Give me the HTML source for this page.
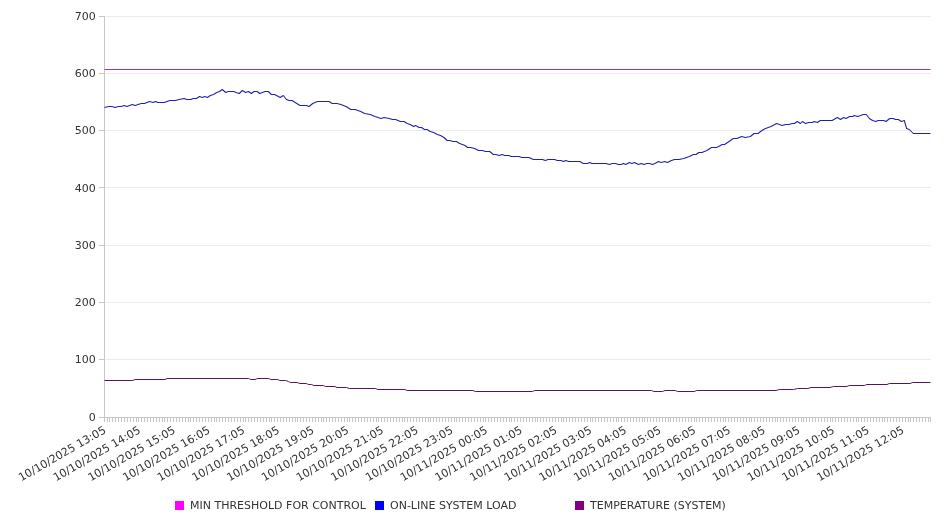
<!DOCTYPE html><html><head><meta charset="utf-8"><title>Chart</title><style>
html,body{margin:0;padding:0;background:#fff;width:946px;height:526px;overflow:hidden}
svg{display:block}
text{font-family:'DejaVu Sans', 'Liberation Sans', sans-serif;fill:#333333}
</style></head><body>
<svg width="946" height="526" viewBox="0 0 946 526">
<defs><filter id="gs" x="-0.05" y="-0.1" width="1.1" height="1.2" color-interpolation-filters="sRGB"><feColorMatrix type="saturate" values="0"/></filter></defs>
<rect width="946" height="526" fill="#fff"/>
<path d="M104.5 417.5H930.5M104.5 359.5H930.5M104.5 302.5H930.5M104.5 245.5H930.5M104.5 187.5H930.5M104.5 130.5H930.5M104.5 73.5H930.5M104.5 16.5H930.5" stroke="#ebebeb" stroke-width="1" fill="none" shape-rendering="crispEdges"/>
<path d="M99 417.5H104.5M99 359.5H104.5M99 302.5H104.5M99 245.5H104.5M99 187.5H104.5M99 130.5H104.5M99 73.5H104.5M99 16.5H104.5" stroke="#c6c6c6" stroke-width="1" fill="none" shape-rendering="crispEdges"/>
<g font-size="11" text-anchor="end" filter="url(#gs)">
<text x="95.8" y="420.7">0</text>
<text x="95.8" y="363.4">100</text>
<text x="95.8" y="306.1">200</text>
<text x="95.8" y="248.8">300</text>
<text x="95.8" y="191.6">400</text>
<text x="95.8" y="134.3">500</text>
<text x="95.8" y="77.0">600</text>
<text x="95.8" y="19.7">700</text>
</g>
<path d="M104.5 417.5V422M107.5 417.5V422M109.5 417.5V422M112.5 417.5V422M115.5 417.5V422M118.5 417.5V422M121.5 417.5V422M124.5 417.5V422M127.5 417.5V422M130.5 417.5V422M133.5 417.5V422M136.5 417.5V422M138.5 417.5V422M141.5 417.5V422M144.5 417.5V422M147.5 417.5V422M150.5 417.5V422M153.5 417.5V422M156.5 417.5V422M159.5 417.5V422M162.5 417.5V422M164.5 417.5V422M167.5 417.5V422M170.5 417.5V422M173.5 417.5V422M176.5 417.5V422M179.5 417.5V422M182.5 417.5V422M185.5 417.5V422M188.5 417.5V422M190.5 417.5V422M193.5 417.5V422M196.5 417.5V422M199.5 417.5V422M202.5 417.5V422M205.5 417.5V422M208.5 417.5V422M211.5 417.5V422M214.5 417.5V422M216.5 417.5V422M219.5 417.5V422M222.5 417.5V422M225.5 417.5V422M228.5 417.5V422M231.5 417.5V422M234.5 417.5V422M237.5 417.5V422M240.5 417.5V422M243.5 417.5V422M245.5 417.5V422M248.5 417.5V422M251.5 417.5V422M254.5 417.5V422M257.5 417.5V422M260.5 417.5V422M263.5 417.5V422M266.5 417.5V422M269.5 417.5V422M271.5 417.5V422M274.5 417.5V422M277.5 417.5V422M280.5 417.5V422M283.5 417.5V422M286.5 417.5V422M289.5 417.5V422M292.5 417.5V422M295.5 417.5V422M297.5 417.5V422M300.5 417.5V422M303.5 417.5V422M306.5 417.5V422M309.5 417.5V422M312.5 417.5V422M315.5 417.5V422M318.5 417.5V422M321.5 417.5V422M323.5 417.5V422M326.5 417.5V422M329.5 417.5V422M332.5 417.5V422M335.5 417.5V422M338.5 417.5V422M341.5 417.5V422M344.5 417.5V422M347.5 417.5V422M349.5 417.5V422M352.5 417.5V422M355.5 417.5V422M358.5 417.5V422M361.5 417.5V422M364.5 417.5V422M367.5 417.5V422M370.5 417.5V422M373.5 417.5V422M376.5 417.5V422M378.5 417.5V422M381.5 417.5V422M384.5 417.5V422M387.5 417.5V422M390.5 417.5V422M393.5 417.5V422M396.5 417.5V422M399.5 417.5V422M402.5 417.5V422M404.5 417.5V422M407.5 417.5V422M410.5 417.5V422M413.5 417.5V422M416.5 417.5V422M419.5 417.5V422M422.5 417.5V422M425.5 417.5V422M428.5 417.5V422M430.5 417.5V422M433.5 417.5V422M436.5 417.5V422M439.5 417.5V422M442.5 417.5V422M445.5 417.5V422M448.5 417.5V422M451.5 417.5V422M454.5 417.5V422M456.5 417.5V422M459.5 417.5V422M462.5 417.5V422M465.5 417.5V422M468.5 417.5V422M471.5 417.5V422M474.5 417.5V422M477.5 417.5V422M480.5 417.5V422M483.5 417.5V422M485.5 417.5V422M488.5 417.5V422M491.5 417.5V422M494.5 417.5V422M497.5 417.5V422M500.5 417.5V422M503.5 417.5V422M506.5 417.5V422M509.5 417.5V422M511.5 417.5V422M514.5 417.5V422M517.5 417.5V422M520.5 417.5V422M523.5 417.5V422M526.5 417.5V422M529.5 417.5V422M532.5 417.5V422M535.5 417.5V422M537.5 417.5V422M540.5 417.5V422M543.5 417.5V422M546.5 417.5V422M549.5 417.5V422M552.5 417.5V422M555.5 417.5V422M558.5 417.5V422M561.5 417.5V422M563.5 417.5V422M566.5 417.5V422M569.5 417.5V422M572.5 417.5V422M575.5 417.5V422M578.5 417.5V422M581.5 417.5V422M584.5 417.5V422M587.5 417.5V422M590.5 417.5V422M592.5 417.5V422M595.5 417.5V422M598.5 417.5V422M601.5 417.5V422M604.5 417.5V422M607.5 417.5V422M610.5 417.5V422M613.5 417.5V422M616.5 417.5V422M618.5 417.5V422M621.5 417.5V422M624.5 417.5V422M627.5 417.5V422M630.5 417.5V422M633.5 417.5V422M636.5 417.5V422M639.5 417.5V422M642.5 417.5V422M644.5 417.5V422M647.5 417.5V422M650.5 417.5V422M653.5 417.5V422M656.5 417.5V422M659.5 417.5V422M662.5 417.5V422M665.5 417.5V422M668.5 417.5V422M670.5 417.5V422M673.5 417.5V422M676.5 417.5V422M679.5 417.5V422M682.5 417.5V422M685.5 417.5V422M688.5 417.5V422M691.5 417.5V422M694.5 417.5V422M696.5 417.5V422M699.5 417.5V422M702.5 417.5V422M705.5 417.5V422M708.5 417.5V422M711.5 417.5V422M714.5 417.5V422M717.5 417.5V422M720.5 417.5V422M723.5 417.5V422M725.5 417.5V422M728.5 417.5V422M731.5 417.5V422M734.5 417.5V422M737.5 417.5V422M740.5 417.5V422M743.5 417.5V422M746.5 417.5V422M749.5 417.5V422M751.5 417.5V422M754.5 417.5V422M757.5 417.5V422M760.5 417.5V422M763.5 417.5V422M766.5 417.5V422M769.5 417.5V422M772.5 417.5V422M775.5 417.5V422M777.5 417.5V422M780.5 417.5V422M783.5 417.5V422M786.5 417.5V422M789.5 417.5V422M792.5 417.5V422M795.5 417.5V422M798.5 417.5V422M801.5 417.5V422M803.5 417.5V422M806.5 417.5V422M809.5 417.5V422M812.5 417.5V422M815.5 417.5V422M818.5 417.5V422M821.5 417.5V422M824.5 417.5V422M827.5 417.5V422M830.5 417.5V422M832.5 417.5V422M835.5 417.5V422M838.5 417.5V422M841.5 417.5V422M844.5 417.5V422M847.5 417.5V422M850.5 417.5V422M853.5 417.5V422M856.5 417.5V422M858.5 417.5V422M861.5 417.5V422M864.5 417.5V422M867.5 417.5V422M870.5 417.5V422M873.5 417.5V422M876.5 417.5V422M879.5 417.5V422M882.5 417.5V422M884.5 417.5V422M887.5 417.5V422M890.5 417.5V422M893.5 417.5V422M896.5 417.5V422M899.5 417.5V422M902.5 417.5V422M905.5 417.5V422M908.5 417.5V422M910.5 417.5V422M913.5 417.5V422M916.5 417.5V422M919.5 417.5V422M922.5 417.5V422M925.5 417.5V422M928.5 417.5V422M930.5 417.5V422" stroke="#c6c6c6" stroke-width="1" fill="none" shape-rendering="crispEdges"/>
<path d="M104.5 16V418M99 417.5H931" stroke="#c6c6c6" stroke-width="1" fill="none" shape-rendering="crispEdges"/>
<g font-size="11" text-anchor="end" filter="url(#gs)">
<text transform="translate(106.70,432.2) rotate(-30)">10/10/2025 13:05</text>
<text transform="translate(141.40,432.2) rotate(-30)">10/10/2025 14:05</text>
<text transform="translate(176.10,432.2) rotate(-30)">10/10/2025 15:05</text>
<text transform="translate(210.80,432.2) rotate(-30)">10/10/2025 16:05</text>
<text transform="translate(245.50,432.2) rotate(-30)">10/10/2025 17:05</text>
<text transform="translate(280.20,432.2) rotate(-30)">10/10/2025 18:05</text>
<text transform="translate(314.90,432.2) rotate(-30)">10/10/2025 19:05</text>
<text transform="translate(349.60,432.2) rotate(-30)">10/10/2025 20:05</text>
<text transform="translate(384.30,432.2) rotate(-30)">10/10/2025 21:05</text>
<text transform="translate(419.00,432.2) rotate(-30)">10/10/2025 22:05</text>
<text transform="translate(453.70,432.2) rotate(-30)">10/10/2025 23:05</text>
<text transform="translate(488.40,432.2) rotate(-30)">10/11/2025 00:05</text>
<text transform="translate(523.10,432.2) rotate(-30)">10/11/2025 01:05</text>
<text transform="translate(557.80,432.2) rotate(-30)">10/11/2025 02:05</text>
<text transform="translate(592.50,432.2) rotate(-30)">10/11/2025 03:05</text>
<text transform="translate(627.20,432.2) rotate(-30)">10/11/2025 04:05</text>
<text transform="translate(661.90,432.2) rotate(-30)">10/11/2025 05:05</text>
<text transform="translate(696.60,432.2) rotate(-30)">10/11/2025 06:05</text>
<text transform="translate(731.30,432.2) rotate(-30)">10/11/2025 07:05</text>
<text transform="translate(766.00,432.2) rotate(-30)">10/11/2025 08:05</text>
<text transform="translate(800.70,432.2) rotate(-30)">10/11/2025 09:05</text>
<text transform="translate(835.40,432.2) rotate(-30)">10/11/2025 10:05</text>
<text transform="translate(870.10,432.2) rotate(-30)">10/11/2025 11:05</text>
<text transform="translate(904.80,432.2) rotate(-30)">10/11/2025 12:05</text>
</g>
<path d="M104.5 69.5H930.5" stroke="#a832a8" stroke-width="1" fill="none"/>
<polyline points="104.5,107.5 108.8,106.5 111.9,106.5 115.1,107.5 118.3,106.5 121.0,106.5 124.2,105.5 127.0,106.5 132.2,104.5 135.3,105.5 138.1,104.5 141.3,103.5 144.4,103.5 149.6,101.5 153.2,102.5 155.4,101.5 157.9,102.5 164.3,102.5 169.8,100.5 175.4,100.5 179.0,99.5 184.2,98.5 186.9,99.5 190.9,99.5 193.3,98.5 196.4,98.5 199.5,96.5 202.4,97.5 204.8,96.5 207.4,97.5 210.3,95.5 213.5,94.5 216.7,92.5 219.4,91.5 222.2,89.5 225.8,92.5 228.2,91.5 233.7,91.5 236.1,92.5 239.3,93.5 242.4,90.5 245.6,92.5 248.4,91.5 251.3,93.5 254.0,91.5 257.2,91.5 259.6,93.5 265.1,91.5 268.3,91.5 271.4,94.5 274.6,94.5 280.2,97.5 283.3,95.5 286.5,99.5 288.9,100.5 292.1,100.5 295.2,102.5 300.0,105.5 306.3,105.5 309.1,106.5 312.7,103.5 317.4,101.5 329.0,101.5 332.2,103.5 336.9,103.5 340.9,104.5 346.0,106.5 350.8,109.5 355.2,109.5 360.7,111.5 364.7,113.5 370.2,114.5 375.0,116.5 381.0,118.5 384.1,117.5 389.3,118.5 392.4,119.5 395.6,119.5 400.4,121.5 404.0,121.5 407.2,123.5 410.3,124.5 413.5,126.5 415.5,125.5 419.1,127.5 421.4,127.5 424.6,129.5 427.0,129.5 430.2,131.5 433.7,132.5 437.3,134.5 440.5,135.5 444.0,137.5 447.2,140.5 449.6,140.5 453.2,141.5 456.4,141.5 459.6,143.5 465.1,145.5 467.5,147.5 470.7,147.5 474.6,148.5 478.6,150.5 482.5,150.5 485.3,151.5 489.7,151.5 493.3,154.5 496.0,154.5 499.2,155.5 502.0,154.5 504.8,155.5 508.7,155.5 511.1,156.5 519.0,156.5 521.8,157.5 529.0,157.5 533.4,159.5 542.5,159.5 545.3,160.5 548.0,159.5 554.8,159.5 557.2,160.5 561.1,160.5 563.5,161.5 565.9,160.5 568.7,161.5 579.8,161.5 583.3,163.5 587.3,163.5 589.7,162.5 592.0,163.5 604.0,163.5 606.0,163.5 609.2,164.5 612.3,163.5 615.5,163.5 618.3,164.5 621.0,164.5 623.4,163.5 625.8,164.5 629.4,162.5 631.8,163.5 634.5,162.5 638.5,164.5 641.3,163.5 644.0,164.5 646.8,163.5 649.6,163.5 652.4,164.5 655.1,163.5 658.3,161.5 661.1,162.5 664.7,161.5 667.4,162.5 671.4,160.5 674.6,159.5 679.0,159.5 683.8,158.5 689.3,156.5 693.3,154.5 696.0,154.5 698.8,152.5 702.0,152.5 706.8,150.5 711.5,147.5 716.3,147.5 718.7,146.5 722.2,144.5 724.6,144.5 729.0,141.5 733.3,138.5 736.9,138.5 741.6,136.5 745.2,137.5 750.4,136.5 754.0,133.5 758.0,133.5 761.9,130.5 765.5,128.5 771.0,126.5 776.6,123.5 782.2,125.5 785.7,124.5 788.9,124.5 792.1,123.5 794.4,123.5 797.2,121.5 800.4,123.5 802.4,121.5 805.5,123.5 808.7,122.5 812.3,122.5 814.3,121.5 817.4,122.5 820.2,120.5 829.0,120.5 832.2,120.5 837.3,117.5 840.5,119.5 843.7,117.5 846.0,118.5 849.6,116.5 852.4,116.5 854.4,115.5 857.5,116.5 860.7,115.5 863.1,114.5 866.3,114.5 869.4,118.5 872.6,120.5 875.8,121.5 878.2,120.5 883.7,120.5 886.1,121.5 889.7,118.5 893.3,118.5 895.3,119.5 898.3,119.5 901.3,121.5 904.3,120.5 906.6,128.5 909.3,129.5 913.3,133.5 914.6,133.5 930.5,133.5" stroke="#2020b0" stroke-width="1.05" fill="none" stroke-linejoin="round"/>
<polyline points="104.5,380.5 132.8,380.5 134.9,379.5 165.0,379.5 167.1,378.5 248.6,378.5 250.7,379.5 255.0,379.5 257.6,378.5 268.7,378.5 270.8,379.5 277.7,379.5 279.8,380.5 285.6,380.5 288.5,381.5 290.4,382.5 297.3,382.5 300.0,383.5 306.3,383.5 308.5,384.5 311.6,384.5 313.7,385.5 323.3,385.5 325.4,386.5 334.9,386.5 337.0,387.5 346.5,387.5 349.2,388.5 375.6,388.5 377.7,389.5 404.8,389.5 407.1,390.5 472.9,390.5 475.3,391.5 532.4,391.5 534.8,390.5 651.5,390.5 653.9,391.5 662.6,391.5 665.0,390.5 675.3,390.5 677.6,391.5 694.3,391.5 696.7,390.5 776.1,390.5 779.3,389.5 793.5,389.5 797.5,388.5 807.8,388.5 811.0,387.5 830.0,387.5 833.5,386.5 846.9,386.5 849.2,385.5 864.3,385.5 866.6,384.5 887.0,384.5 889.3,383.5 910.2,383.5 912.6,382.5 930.5,382.5" stroke="#561656" stroke-width="1" fill="none" stroke-linejoin="round"/>
<rect x="175" y="501" width="9" height="9" fill="#ff00ff"/>
<rect x="375" y="501" width="9" height="9" fill="#0000ff"/>
<rect x="575" y="501" width="9" height="9" fill="#800080"/>
<g font-size="11" filter="url(#gs)">
<text x="190" y="509">MIN THRESHOLD FOR CONTROL</text>
<text x="390" y="509">ON-LINE SYSTEM LOAD</text>
<text x="590" y="509">TEMPERATURE (SYSTEM)</text>
</g>
</svg></body></html>
